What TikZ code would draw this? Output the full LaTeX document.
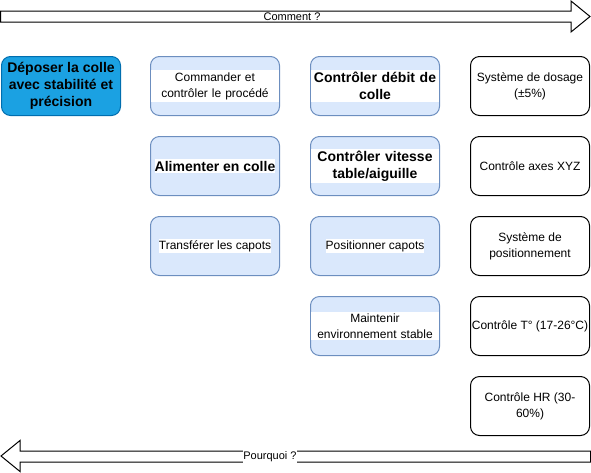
\documentclass[tikz,border=0pt]{standalone}
\usepackage{fontspec}
\setmainfont{Liberation Sans}
\definecolor{lblue}{HTML}{DAE8FC}
\definecolor{lbluedraw}{HTML}{6C8EBF}
\definecolor{dblue}{HTML}{1BA1E2}
\definecolor{dbluedraw}{HTML}{006EAF}
\begin{document}
\begin{tikzpicture}[x=1pt,y=-1pt,
  box/.style={rounded corners=9pt, line width=1pt, minimum height=59pt, inner sep=0pt},
  lightbox/.style={box, minimum width=129pt, draw=lbluedraw, fill=lblue},
  whitebox/.style={box, minimum width=119pt, draw=black, fill=white, align=center,
    font=\fontsize{12}{16}\selectfont},
  darkbox/.style={box, minimum width=119pt, draw=dbluedraw, fill=dblue, align=center,
    font=\fontsize{14}{17}\selectfont\bfseries},
  lblone/.style={fill=white, inner xsep=0pt, inner ysep=1.5pt, font=\fontsize{12}{16}\selectfont},
  lbltwo/.style={fill=white, inner xsep=0pt, inner ysep=2pt, text width=128pt, align=center, font=\fontsize{12}{16}\selectfont},
  blblone/.style={lblone, font=\fontsize{14}{17}\selectfont\bfseries},
  blbltwo/.style={lbltwo, font=\fontsize{14}{17}\selectfont\bfseries},
  bigarrow/.style={draw=black, fill=white, line width=1pt, line join=miter},
  arrowlbl/.style={fill=white, inner xsep=0pt, inner ysep=1pt, font=\fontsize{11}{13}\selectfont}
]
\useasboundingbox (0,0) rectangle (591,472);

% top arrow
\draw[bigarrow] (0.5,11) -- (571,11) -- (571,1) -- (590,16.5) -- (571,32) -- (571,22) -- (0.5,22) -- cycle;
\node[arrowlbl] (comment) at (292,16.5) {Comment ?};

% bottom arrow
\draw[bigarrow] (590.5,451) -- (20,451) -- (20,440.5) -- (1,456) -- (20,471.5) -- (20,462) -- (590.5,462) -- cycle;
\node[arrowlbl] (pourquoi) at (270,456.5) {Pourquoi ?};

% main function
\node[darkbox] (main) at (61,86) {Déposer la colle\\avec stabilité et\\précision};

% column 2
\node[lightbox] (c2r1) at (215,86) {};
\node[lbltwo] (t2r1) at (c2r1) {Commander et\\contrôler le procédé};
\node[lightbox] (c2r2) at (215,166) {};
\node[blblone] (t2r2) at (c2r2) {Alimenter en colle};
\node[lightbox] (c2r3) at (215,246) {};
\node[lblone] (t2r3) at (c2r3) {Transférer les capots};

% column 3
\node[lightbox] (c3r1) at (375,86) {};
\node[blbltwo] (t3r1) at (c3r1) {Contrôler débit de\\colle};
\node[lightbox] (c3r2) at (375,166) {};
\node[blbltwo] (t3r2) at (c3r2) {Contrôler vitesse\\table/aiguille};
\node[lightbox] (c3r3) at (375,246) {};
\node[lblone] (t3r3) at (c3r3) {Positionner capots};
\node[lightbox] (c3r4) at (375,326) {};
\node[lbltwo] (t3r4) at (c3r4) {Maintenir\\environnement stable};

% column 4
\node[whitebox] (c4r1) at (530,86) {Système de dosage\\(±5\%)};
\node[whitebox] (c4r2) at (530,166) {Contrôle axes XYZ};
\node[whitebox] (c4r3) at (530,246) {Système de\\positionnement};
\node[whitebox] (c4r4) at (530,326) {Contrôle T° (17-26°C)};
\node[whitebox] (c4r5) at (530,406) {Contrôle HR (30-\\60\%)};
\end{tikzpicture}
\end{document}
